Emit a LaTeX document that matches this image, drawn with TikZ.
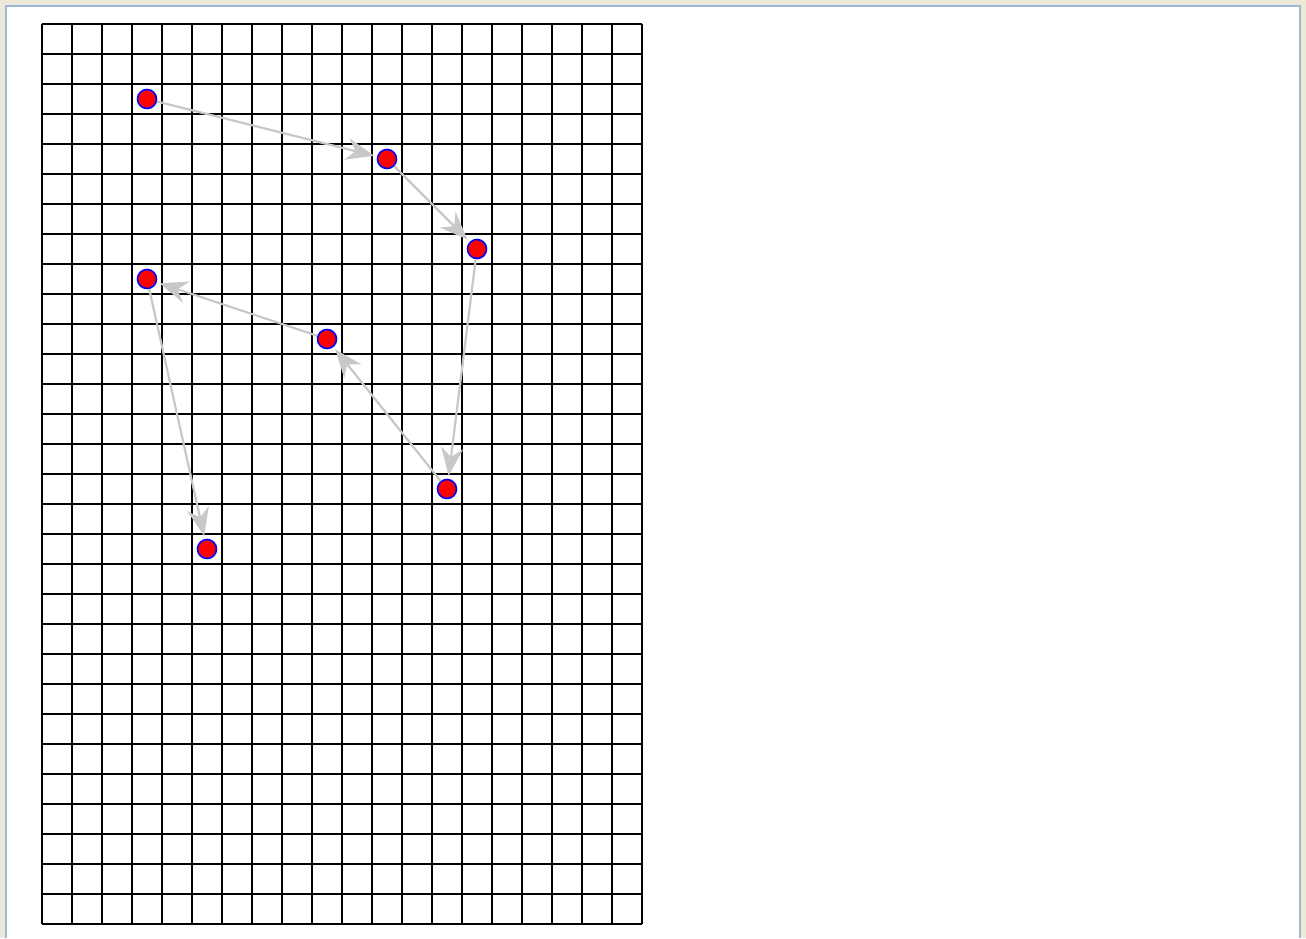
\documentclass[tikz,border=0pt]{standalone}
\usetikzlibrary{arrows.meta}
\definecolor{bgbeige}{HTML}{ECE9D8}
\definecolor{panelblue}{HTML}{9DB9D5}
\definecolor{arrowgray}{HTML}{C8C8C8}
\tikzset{
  pt/.style={circle, fill=red, draw=blue, line width=1.6pt, minimum size=19pt, inner sep=0pt},
  link/.style={draw=arrowgray, line width=2.2pt, -{Stealth[length=28pt, width=22pt, inset=9pt]}, shorten >=3pt},
  gridline/.style={black, line width=1.9pt}
}
\begin{document}
\begin{tikzpicture}[x=1pt, y=-1pt]
\useasboundingbox (0,0) rectangle (1306,938);
\fill[bgbeige] (0,0) rectangle (1306,938);
\fill[white] (6,6) rectangle (1300,938);
\draw[panelblue, line width=2pt] (6,938) -- (6,6) -- (1300,6) -- (1300,938);
\foreach \i in {0,...,20} {
  \draw[gridline] (42+30*\i,24) -- (42+30*\i,924);
}
\foreach \j in {0,...,30} {
  \draw[gridline] (42,24+30*\j) -- (642,24+30*\j);
}
\node[pt] (p1) at (147,99) {};
\node[pt] (p2) at (387,159) {};
\node[pt] (p3) at (477,249) {};
\node[pt] (p4) at (447,489) {};
\node[pt] (p5) at (327,339) {};
\node[pt] (p6) at (147,279) {};
\node[pt] (p7) at (207,549) {};
\draw[link] (p1) -- (p2);
\draw[link] (p2) -- (p3);
\draw[link] (p3) -- (p4);
\draw[link] (p4) -- (p5);
\draw[link] (p5) -- (p6);
\draw[link] (p6) -- (p7);
\end{tikzpicture}
\end{document}
